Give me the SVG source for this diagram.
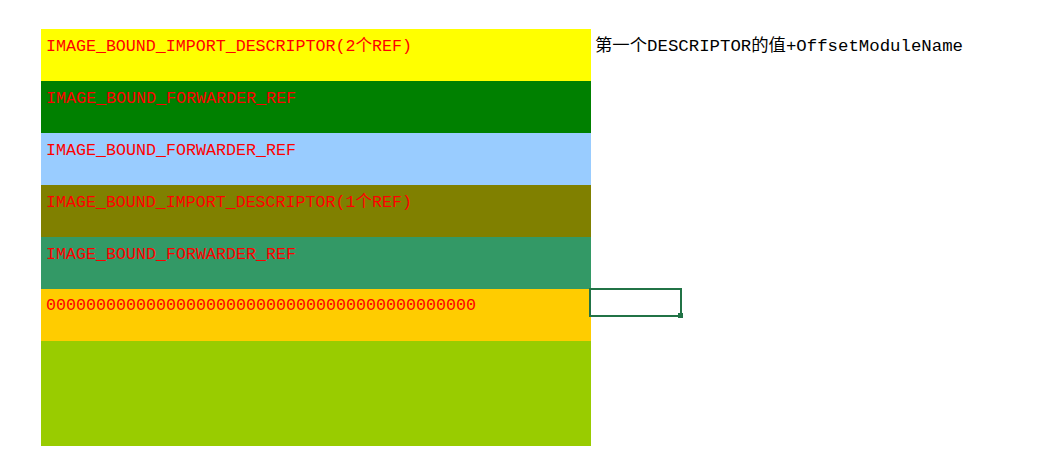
<svg xmlns="http://www.w3.org/2000/svg" width="1044" height="474" viewBox="0 0 1044 474">
<style>
.t{font-family:"Liberation Mono","Noto Sans CJK SC",monospace;font-size:16.5px;fill:#FF0000}
.k{font-family:"Liberation Mono","Noto Sans CJK SC",monospace;font-size:16.5px;fill:#000000}
</style>
<rect width="1044" height="474" fill="#FFFFFF"/>
<g id="row1"><rect x="41" y="29" width="550" height="52" fill="#FFFF00"/><text class="t" x="46" y="51" textLength="366" lengthAdjust="spacingAndGlyphs">IMAGE_BOUND_IMPORT_DESCRIPTOR(2个REF)</text></g>
<g id="row2"><rect x="41" y="81" width="550" height="52" fill="#008000"/><text class="t" x="46" y="103" textLength="250" lengthAdjust="spacingAndGlyphs">IMAGE_BOUND_FORWARDER_REF</text></g>
<g id="row3"><rect x="41" y="133" width="550" height="52" fill="#99CCFF"/><text class="t" x="46" y="155" textLength="250" lengthAdjust="spacingAndGlyphs">IMAGE_BOUND_FORWARDER_REF</text></g>
<g id="row4"><rect x="41" y="185" width="550" height="52" fill="#808000"/><text class="t" x="46" y="207" textLength="366" lengthAdjust="spacingAndGlyphs">IMAGE_BOUND_IMPORT_DESCRIPTOR(1个REF)</text></g>
<g id="row5"><rect x="41" y="237" width="550" height="52" fill="#339966"/><text class="t" x="46" y="259" textLength="250" lengthAdjust="spacingAndGlyphs">IMAGE_BOUND_FORWARDER_REF</text></g>
<g id="row6"><rect x="41" y="289" width="550" height="52" fill="#FFCC00"/><text class="t" x="46" y="310" textLength="430" lengthAdjust="spacingAndGlyphs">0000000000000000000000000000000000000000000</text></g>
<g id="row7"><rect x="41" y="341" width="550" height="105" fill="#99CC00"/></g>
<g id="note"><text class="k" x="595" y="51" textLength="368" lengthAdjust="spacingAndGlyphs">第一个DESCRIPTOR的值+OffsetModuleName</text></g>
<g id="selection"><rect x="590" y="289" width="91" height="27" fill="none" stroke="#217346" stroke-width="2"/><rect x="678" y="313" width="5" height="5" fill="#217346"/></g>
<g id="connectors"></g>
</svg>
